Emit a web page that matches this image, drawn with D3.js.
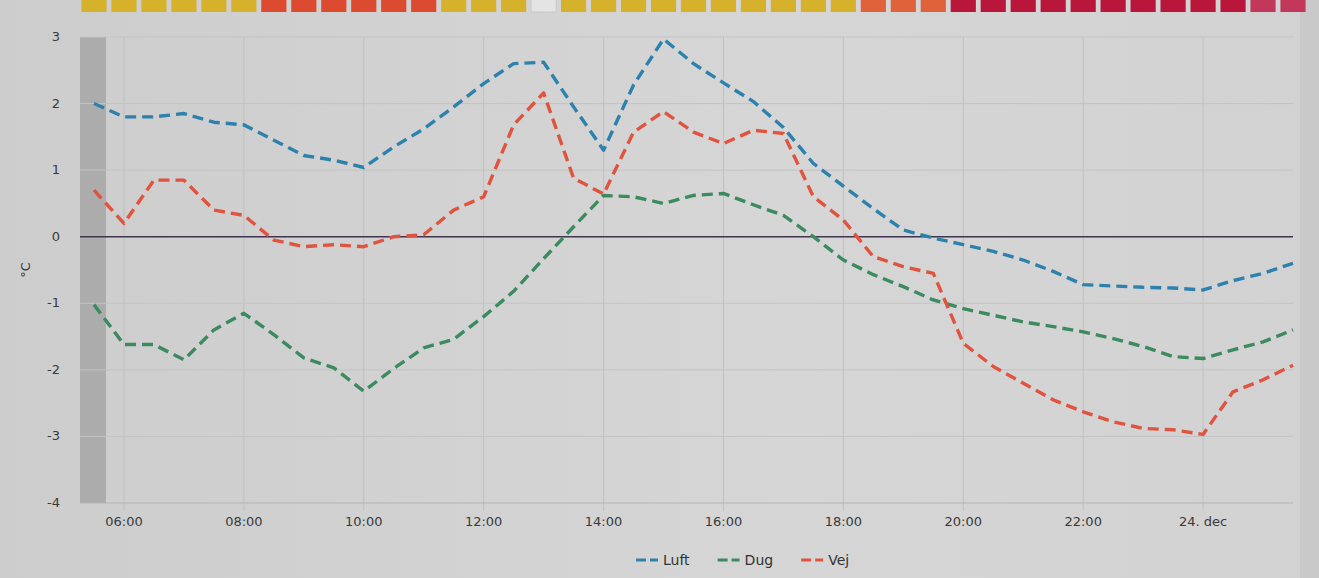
<!DOCTYPE html>
<html>
<head>
<meta charset="utf-8">
<script src="https://cdn.jsdelivr.net/npm/d3@7"></script>
<style>
  html, body { margin: 0; padding: 0; background: #d3d3d3; }
  svg { display: block; font-family: "DejaVu Sans", Verdana, sans-serif; }
</style>
</head>
<body>
<svg id="chart" width="1319" height="578"></svg>
<script>
// half-hour slots, 23 dec 05:30 -> 24 dec 01:30
const times = ["05:30","06:00","06:30","07:00","07:30","08:00","08:30","09:00","09:30","10:00",
  "10:30","11:00","11:30","12:00","12:30","13:00","13:30","14:00","14:30","15:00",
  "15:30","16:00","16:30","17:00","17:30","18:00","18:30","19:00","19:30","20:00",
  "20:30","21:00","21:30","22:00","22:30","23:00","23:30","00:00","00:30","01:00","01:30"];

const luft = [2.0, 1.8, 1.8, 1.85, 1.72, 1.68, 1.45, 1.22, 1.15, 1.04,
  1.35, 1.62, 1.95, 2.3, 2.6, 2.62, 1.95, 1.3, 2.28, 2.97,
  2.6, 2.31, 2.03, 1.64, 1.1, 0.76, 0.42, 0.1, -0.02, -0.12,
  -0.22, -0.35, -0.52, -0.72, -0.74, -0.76, -0.77, -0.8, -0.66, -0.55, -0.4];

const dug = [-1.02, -1.62, -1.62, -1.85, -1.4, -1.15, -1.47, -1.82, -1.97, -2.32,
  -1.98, -1.67, -1.54, -1.2, -0.82, -0.33, 0.15, 0.62, 0.6, 0.5,
  0.62, 0.65, 0.48, 0.32, 0.0, -0.35, -0.57, -0.75, -0.95, -1.08,
  -1.18, -1.28, -1.35, -1.43, -1.53, -1.65, -1.8, -1.83, -1.7, -1.58, -1.4];

const vej = [0.7, 0.2, 0.85, 0.85, 0.4, 0.32, -0.05, -0.15, -0.12, -0.15,
  0.0, 0.03, 0.4, 0.6, 1.68, 2.16, 0.88, 0.64, 1.57, 1.88,
  1.57, 1.4, 1.6, 1.55, 0.6, 0.25, -0.3, -0.45, -0.55, -1.6,
  -1.95, -2.2, -2.45, -2.63, -2.78, -2.88, -2.9, -2.97, -2.33, -2.15, -1.93];

// warning strip on top, one square per slot
const stripLevel = ["y","y","y","y","y","y","r","r","r","r","r","r","y","y","y","w",
  "y","y","y","y","y","y","y","y","y","y","o","o","o",
  "c","c","c","c","c","c","c","c","c","c","p","p"];

const seriesNames = ["Luft", "Dug", "Vej"];
const yTicks = [-4, -3, -2, -1, 0, 1, 2, 3];
const axisStart = "05:16", axisEnd = "01:30", nightEnd = "05:42";

// -------- helpers
function toDate(hhmm) {
  const [h, m] = hhmm.split(":").map(Number);
  // everything before 05:00 belongs to the next day
  return new Date(2023, 11, h < 5 ? 24 : 23, h, m);
}

const colors = { Luft: "#2c82ad", Dug: "#3b8a60", Vej: "#e0543f" };
const stripColors = { y: "#d6b22c", r: "#dc4a2f", w: "#e4e4e4", o: "#e0623b", c: "#b8173b", p: "#c2385a" };

const svg = d3.select("#chart");
const W = 1319, H = 578;
const plot = { left: 80, right: 1293, top: 37, bottom: 503 };

// faint photo shading
const defs = svg.append("defs");
const grad = defs.append("linearGradient").attr("id", "bg").attr("x1", 0).attr("x2", 1).attr("y1", 0).attr("y2", 0);
grad.append("stop").attr("offset", "0%").attr("stop-color", "#cdcdcd");
grad.append("stop").attr("offset", "60%").attr("stop-color", "#d6d6d6");
grad.append("stop").attr("offset", "100%").attr("stop-color", "#d2d2d2");
svg.append("rect").attr("width", W).attr("height", H).attr("fill", "url(#bg)");
svg.append("rect").attr("x", 1300).attr("width", 19).attr("height", H).attr("fill", "#c4c4c4").attr("opacity", 0.7);

const x = d3.scaleTime()
  .domain([toDate(axisStart), toDate(axisEnd)])
  .range([plot.left, plot.right]);

const y = d3.scaleLinear()
  .domain([-4, 3])
  .range([plot.bottom, plot.top]);

// strip of squares at the top
const step = x(toDate("06:00")) - x(toDate("05:30"));
svg.append("g").selectAll("rect")
  .data(times)
  .join("rect")
  .attr("x", (d) => x(toDate(d)) - step * 0.42)
  .attr("y", -10)
  .attr("width", step * 0.84)
  .attr("height", 22)
  .attr("fill", (d, i) => stripColors[stripLevel[i]])
  .attr("stroke", (d, i) => stripLevel[i] === "w" ? "#c8c8c8" : "none");

// night band
svg.append("rect")
  .attr("x", x(toDate(axisStart)))
  .attr("y", plot.top)
  .attr("width", x(toDate(nightEnd)) - x(toDate(axisStart)))
  .attr("height", plot.bottom - plot.top)
  .attr("fill", "#acacac");

// grid
const xTicks = d3.timeHour.every(2).range(toDate("06:00"), toDate("01:00"));
svg.append("g").selectAll("line")
  .data(xTicks)
  .join("line")
  .attr("x1", (d) => x(d)).attr("x2", (d) => x(d))
  .attr("y1", plot.top).attr("y2", plot.bottom + 8)
  .attr("stroke", "#c0c0c0").attr("stroke-width", 1);

svg.append("g").selectAll("line")
  .data(yTicks)
  .join("line")
  .attr("x1", plot.left).attr("x2", plot.right)
  .attr("y1", (d) => y(d)).attr("y2", (d) => y(d))
  .attr("stroke", (d) => d === -4 ? "#b4b4b4" : "#c3c3c3").attr("stroke-width", 1);

// zero line
svg.append("line")
  .attr("x1", plot.left).attr("x2", plot.right)
  .attr("y1", y(0)).attr("y2", y(0))
  .attr("stroke", "#40354f").attr("stroke-width", 1.6);

// axes text
const fmt = (d) => d.getHours() === 0 ? "24. dec" : d3.timeFormat("%H:%M")(d);
svg.append("g").selectAll("text")
  .data(xTicks)
  .join("text")
  .attr("x", (d) => x(d))
  .attr("y", 526)
  .attr("text-anchor", "middle")
  .attr("font-size", 13)
  .attr("fill", "#3a3a3a")
  .text(fmt);

svg.append("g").selectAll("text")
  .data(yTicks)
  .join("text")
  .attr("x", 60)
  .attr("y", (d) => y(d) + 4)
  .attr("text-anchor", "end")
  .attr("font-size", 13)
  .attr("fill", "#3a3a3a")
  .text((d) => d);

svg.append("text")
  .attr("transform", "translate(30," + y(-0.5) + ") rotate(-90)")
  .attr("text-anchor", "middle")
  .attr("font-size", 13)
  .attr("fill", "#3a3a3a")
  .text("°C");

// lines
const seriesData = { Luft: luft, Dug: dug, Vej: vej };
const line = d3.line()
  .x((d) => x(d.t))
  .y((d) => y(d.v));

seriesNames.forEach((name) => {
  const pts = times.map((t, i) => ({ t: toDate(t), v: seriesData[name][i] }));
  svg.append("path")
    .datum(pts)
    .attr("fill", "none")
    .attr("stroke", colors[name])
    .attr("stroke-width", 3.4)
    .attr("stroke-dasharray", "11,6")
    .attr("stroke-linejoin", "round")
    .attr("d", line);
});

// legend
const legend = svg.append("g").attr("transform", "translate(636,560)");
let lx = 0;
seriesNames.forEach((name) => {
  const g = legend.append("g").attr("transform", "translate(" + lx + ",0)");
  g.append("line")
    .attr("x1", 0).attr("x2", 22).attr("y1", 0).attr("y2", 0)
    .attr("stroke", colors[name]).attr("stroke-width", 3)
    .attr("stroke-dasharray", "10,4");
  const txt = g.append("text")
    .attr("x", 27).attr("y", 5)
    .attr("font-size", 14)
    .attr("fill", "#333")
    .text(name);
  lx += 27 + txt.node().getComputedTextLength() + 28;
});
</script>
</body>
</html>
